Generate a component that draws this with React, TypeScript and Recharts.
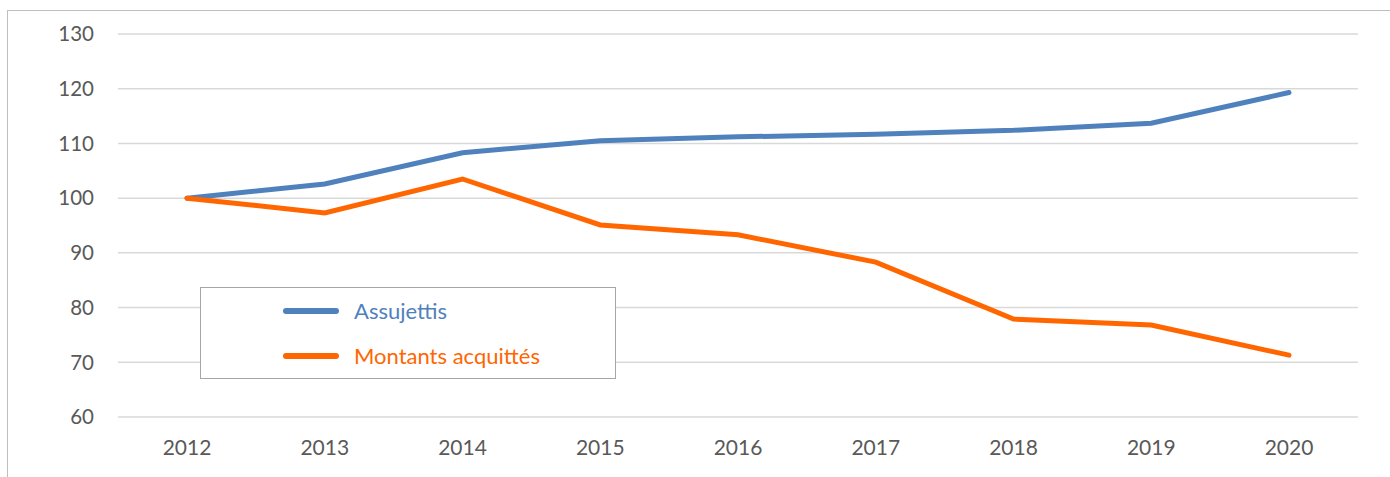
import React from "react";
import { LineChart, Line, XAxis, YAxis, CartesianGrid, Legend } from "recharts";

const years = ["2012", "2013", "2014", "2015", "2016", "2017", "2018", "2019", "2020"];
const assujettis = [100, 102.6, 108.3, 110.5, 111.2, 111.7, 112.4, 113.7, 119.3];
const montants = [100, 97.3, 103.5, 95.1, 93.3, 88.3, 77.9, 76.8, 71.3];
const yTicks = [60, 70, 80, 90, 100, 110, 120, 130];

const seriesNames = { a: "Assujettis", m: "Montants acquittés" };
const data = years.map((y, i) => ({ year: y, a: assujettis[i], m: montants[i] }));

const FONT = "Lato, 'Liberation Sans', sans-serif";

const LegendBox = (props: any) => {
  const { payload } = props;
  return (
    <div
      style={{
        width: 416,
        height: 92,
        border: "1.5px solid #a6a6a6",
        background: "#fff",
        boxSizing: "border-box",
        position: "relative",
        fontFamily: FONT,
      }}
    >
      {(payload || []).map((p: any, i: number) => (
        <div
          key={i}
          style={{
            position: "absolute",
            left: 82,
            top: 8 + i * 45,
            display: "flex",
            alignItems: "center",
            height: 30,
          }}
        >
          <div style={{ width: 56, height: 6, borderRadius: 3, background: p.color }} />
          <span style={{ marginLeft: 15, color: p.color, fontSize: 22, lineHeight: "30px" }}>{p.value}</span>
        </div>
      ))}
    </div>
  );
};

export default function App() {
  return (
    <div style={{ position: "absolute", left: 0, top: 0, width: 1390, height: 477, background: "#fff", overflow: "hidden" }}>
      <div
        style={{
          position: "absolute",
          left: 7,
          top: 10,
          width: 1400,
          height: 500,
          border: "1.5px solid #bfbfbf",
          boxSizing: "border-box",
        }}
      />
      <LineChart
        width={1390}
        height={477}
        data={data}
        margin={{ top: 34, right: 32, bottom: 0, left: 0 }}
        style={{ fontFamily: FONT }}
      >
        <CartesianGrid vertical={false} stroke="#d9d9d9" strokeWidth={1.5} />
        <XAxis
          dataKey="year"
          height={60}
          axisLine={false}
          tickLine={false}
          tickMargin={17}
          padding={{ left: 69, right: 69 }}
          tick={{ fill: "#595959", fontSize: 21 }}
        />
        <YAxis
          width={118}
          domain={[60, 130]}
          ticks={yTicks}
          axisLine={false}
          tickLine={false}
          tickMargin={18}
          tick={{ fill: "#595959", fontSize: 20.5 }}
        />
        <Legend
          layout="horizontal"
          align="center"
          verticalAlign="middle"
          wrapperStyle={{ position: "absolute", left: 200, top: 287, width: 416, height: 92 }}
          content={<LegendBox />}
        />
        <Line
          type="linear"
          dataKey="a"
          name={seriesNames.a}
          stroke="#4F81BD"
          strokeWidth={5}
          strokeLinecap="round"
          dot={false}
          activeDot={false}
          isAnimationActive={false}
        />
        <Line
          type="linear"
          dataKey="m"
          name={seriesNames.m}
          stroke="#FF6600"
          strokeWidth={5}
          strokeLinecap="round"
          dot={false}
          activeDot={false}
          isAnimationActive={false}
        />
      </LineChart>
    </div>
  );
}
